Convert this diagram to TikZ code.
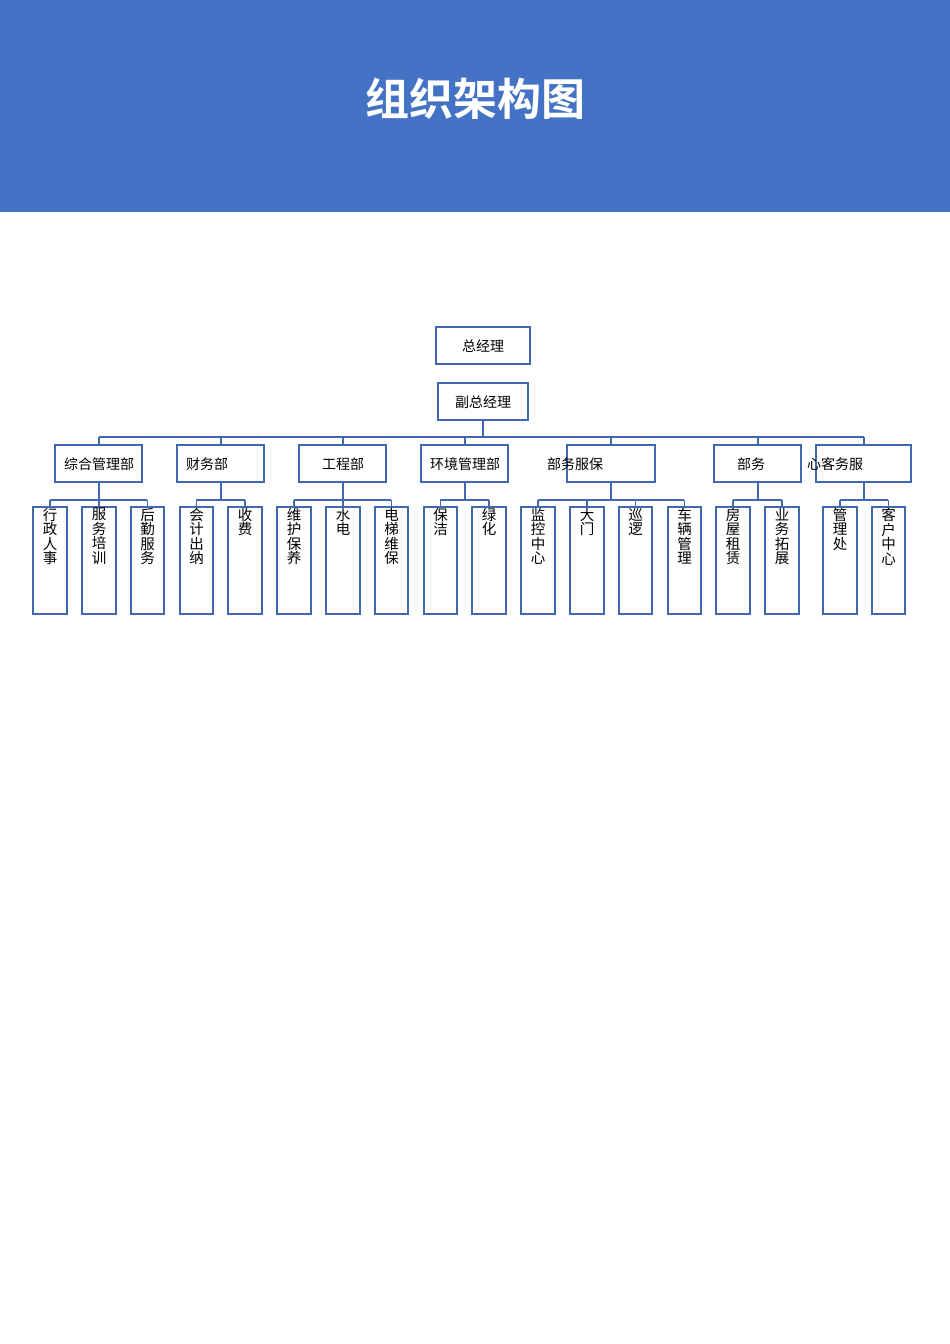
\documentclass[tikz,border=0pt]{standalone}
\usepackage{fontspec}
\setmainfont{Noto Sans CJK SC}
\newfontfamily\titlefont{Noto Sans CJK SC Bold}
\definecolor{hdr}{RGB}{68,114,196}
\definecolor{ln}{RGB}{65,105,175}
\begin{document}
\begin{tikzpicture}[x=1pt,y=-1pt,
  bx/.style={draw=ln,line width=1.3pt},
  wire/.style={draw=ln,line width=1.3pt},
  lbl/.style={font=\fontsize{14}{15}\selectfont,inner sep=0},
  vt/.style={font=\fontsize{14.5}{14.5}\selectfont,align=center,inner sep=0,anchor=north}]
\useasboundingbox (0,0) rectangle (950,1344);
\fill[hdr] (0,0) rectangle (950,212);
\node[text=white,font=\titlefont\fontsize{44}{46}\selectfont] (title) at (475,99) {组织架构图};
% top
\draw[bx] (436,327) rectangle (530,364); \node[lbl] (gm) at (483,346) {总经理};
\draw[bx] (438,383) rectangle (528,420); \node[lbl] (dgm) at (483,402) {副总经理};
\draw[wire] (483,420) -- (483,437);
\draw[wire] (99,437) -- (864,437);
\foreach \x in {99,221,343,465,611,758,864} \draw[wire] (\x,437) -- (\x,445);
% departments
\draw[bx] (55,445) rectangle (142,482); \node[lbl] (d1) at (99,464) {综合管理部};
\draw[bx] (177,445) rectangle (264,482); \node[lbl,anchor=west] (d2) at (186,464) {财务部};
\draw[bx] (299,445) rectangle (386,482); \node[lbl] (d3) at (343,464) {工程部};
\draw[bx] (421,445) rectangle (508,482); \node[lbl] (d4) at (465,464) {环境管理部};
\draw[bx] (567,445) rectangle (655,482); \node[lbl,anchor=west] (d5) at (547,464) {部务服保};
\draw[bx] (714,445) rectangle (801,482); \node[lbl] (d6) at (751,464) {部务};
\draw[bx] (816,445) rectangle (911,482); \node[lbl,anchor=west] (d7) at (807,464) {心客务服};
% children
\foreach \dx/\a/\b in {99/50/147, 221/196/245, 343/294/391, 465/440/489, 611/538/684, 758/733/782, 864/840/888}{
  \draw[wire] (\dx,482) -- (\dx,500);
  \draw[wire] (\a,500) -- (\b,500);
}
\foreach \l/\r/\t [count=\i] in {33/67/{行\\政\\人\\事},82/116/{服\\务\\培\\训},131/164/{后\\勤\\服\\务},180/213/{会\\计\\出\\纳},228/262/{收\\费},277/311/{维\\护\\保\\养},326/360/{水\\电},375/408/{电\\梯\\维\\保},424/457/{保\\洁},472/506/{绿\\化},521/555/{监\\控\\中\\心},570/604/{大\\门},619/652/{巡\\逻},668/701/{车\\辆\\管\\理},716/750/{房\\屋\\租\\赁},765/799/{业\\务\\拓\\展},823/857/{管\\理\\处},872/905/{客\\户\\中\\心}}{
  \draw[wire] ({(\l+\r)/2},500) -- ({(\l+\r)/2},507);
  \draw[bx] (\l,507) rectangle (\r,614);
  \node[vt] (c\i) at ({(\l+\r)/2},508) {\t};
}
\end{tikzpicture}
\end{document}
